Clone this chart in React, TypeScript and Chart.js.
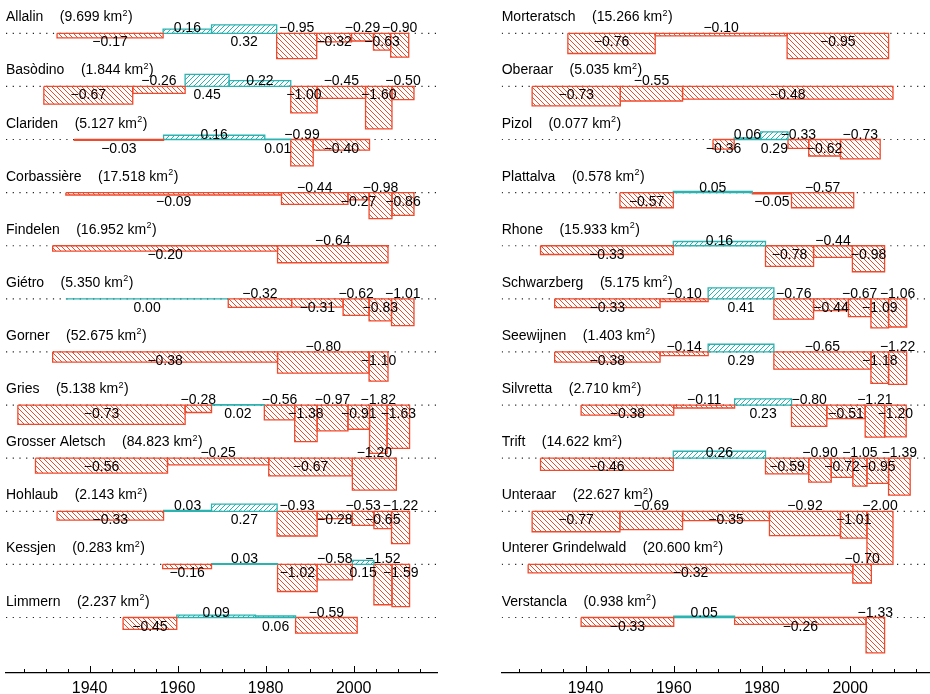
import React, { useEffect, useRef } from 'react';
import { Chart, registerables } from 'chart.js';

Chart.register(...registerables);

const FONT = '"Liberation Sans", Arial, Helvetica, sans-serif';
const RED = '#ee4a2c';
const CYAN = '#2bb3b1';

const X_MIN = 1921;
const X_MAX = 2019;
const Y_MAX = 1.254;
const Y_MIN = -24.09;

// ---------- left panel ----------
const namesLeft = ['Allalin', 'Basòdino', 'Clariden', 'Corbassière', 'Findelen', 'Giétro', 'Gorner', 'Gries', 'Grosser Aletsch', 'Hohlaub', 'Kessjen', 'Limmern'];
const areasLeft = ['9.699', '1.844', '5.127', '17.518', '16.952', '5.350', '52.675', '5.138', '84.823', '2.143', '0.283', '2.237'];

const allalinYears = [1932.6, 1956.7, 1967.7, 1982.5, 1991.6, 1999.5, 2004.5, 2008.4, 2012.5];
const allalinValues = [-0.17, 0.16, 0.32, -0.95, -0.32, -0.29, -0.63, -0.90];
const basodinoYears = [1929.6, 1949.8, 1961.7, 1971.7, 1985.7, 1991.7, 2002.7, 2008.7, 2013.7];
const basodinoValues = [-0.67, -0.26, 0.45, 0.22, -1.00, -0.45, -1.60, -0.50];
const claridenYears = [1936.5, 1956.8, 1979.8, 1985.7, 1990.8, 2003.6];
const claridenValues = [-0.03, 0.16, 0.01, -0.99, -0.40];
const corbassiereYears = [1934.6, 1983.6, 1998.7, 2003.5, 2008.7, 2013.7];
const corbassiereValues = [-0.09, -0.44, -0.27, -0.98, -0.86];
const findelenYears = [1931.6, 1982.7, 2007.8];
const findelenValues = [-0.20, -0.64];
const gietroYears = [1934.6, 1971.5, 1985.9, 1997.6, 2003.5, 2008.6, 2013.7];
const gietroValues = [0.00, -0.32, -0.31, -0.62, -0.83, -1.01];
const gornerYears = [1931.6, 1982.7, 2003.5, 2007.8];
const gornerValues = [-0.38, -0.80, -1.10];
const griesYears = [1923.7, 1961.7, 1967.7, 1979.7, 1986.6, 1991.7, 1998.7, 2003.6, 2007.6, 2012.7];
const griesValues = [-0.73, -0.28, 0.02, -0.56, -1.38, -0.97, -0.91, -1.82, -1.63];
const aletschYears = [1927.7, 1957.7, 1980.7, 1999.7, 2009.7];
const aletschValues = [-0.56, -0.25, -0.67, -1.20];
const hohlaubYears = [1932.6, 1956.8, 1967.7, 1982.6, 1991.7, 1999.7, 2004.6, 2008.6, 2012.7];
const hohlaubValues = [-0.33, 0.03, 0.27, -0.93, -0.28, -0.53, -0.65, -1.22];
const kessjenYears = [1956.6, 1967.7, 1982.7, 1991.7, 1999.7, 2004.6, 2008.7, 2012.7];
const kessjenValues = [-0.16, 0.03, -1.02, -0.58, 0.15, -1.52, -1.59];
const limmernYears = [1947.6, 1959.8, 1977.7, 1986.8, 2000.8];
const limmernValues = [-0.45, 0.09, 0.06, -0.59];

// ---------- right panel ----------
const namesRight = ['Morteratsch', 'Oberaar', 'Pizol', 'Plattalva', 'Rhone', 'Schwarzberg', 'Seewijnen', 'Silvretta', 'Trift', 'Unteraar', 'Unterer Grindelwald', 'Verstancla'];
const areasRight = ['15.266', '5.035', '0.077', '0.578', '15.933', '5.175', '1.403', '2.710', '14.622', '22.627', '20.600', '0.938'];

const morteratschYears = [1936.0, 1955.8, 1985.7, 2008.7];
const morteratschValues = [-0.76, -0.10, -0.95];
const oberaarYears = [1927.9, 1947.9, 1962.0, 2009.7];
const oberaarValues = [-0.73, -0.55, -0.48];
const pizolYears = [1968.9, 1973.7, 1979.7, 1985.9, 1990.6, 1997.8, 2006.8];
const pizolValues = [-0.36, 0.06, 0.29, -0.33, -0.62, -0.73];
const plattalvaYears = [1947.8, 1959.9, 1977.8, 1986.7, 2000.8];
const plattalvaValues = [-0.57, 0.05, -0.05, -0.57];
const rhoneYears = [1929.8, 1959.9, 1980.8, 1991.7, 2000.5, 2007.8];
const rhoneValues = [-0.33, 0.16, -0.78, -0.44, -0.98];
const schwarzbergYears = [1933.0, 1956.9, 1967.8, 1982.7, 1991.7, 1999.6, 2004.7, 2008.7, 2012.8];
const schwarzbergValues = [-0.33, -0.10, 0.41, -0.76, -0.44, -0.67, -1.09, -1.06];
const seewijnenYears = [1933.0, 1956.9, 1967.8, 1982.7, 2004.7, 2008.7, 2012.8];
const seewijnenValues = [-0.38, -0.14, 0.29, -0.65, -1.18, -1.22];
const silvrettaYears = [1939.0, 1960.0, 1973.8, 1986.7, 1994.7, 2003.4, 2007.8, 2012.7];
const silvrettaValues = [-0.38, -0.11, 0.23, -0.80, -0.51, -1.21, -1.20];
const triftYears = [1929.8, 1959.9, 1980.8, 1990.6, 1995.7, 2000.6, 2003.8, 2008.7, 2013.6];
const triftValues = [-0.46, 0.26, -0.59, -0.90, -0.72, -1.05, -0.95, -1.39];
const unteraarYears = [1927.9, 1947.8, 1962.0, 1981.7, 1997.8, 2003.8, 2009.7];
const unteraarValues = [-0.77, -0.69, -0.35, -0.92, -1.01, -2.00];
const grindelwaldYears = [1927.0, 2000.6, 2004.8];
const grindelwaldValues = [-0.32, -0.70];
const verstanclaYears = [1939.0, 1960.0, 1973.8, 2003.6, 2007.8];
const verstanclaValues = [-0.33, 0.05, -0.26, -1.33];

type Row = { name: string; area: string; years: number[]; values: number[] };

const leftYears = [allalinYears, basodinoYears, claridenYears, corbassiereYears, findelenYears, gietroYears, gornerYears, griesYears, aletschYears, hohlaubYears, kessjenYears, limmernYears];
const leftValues = [allalinValues, basodinoValues, claridenValues, corbassiereValues, findelenValues, gietroValues, gornerValues, griesValues, aletschValues, hohlaubValues, kessjenValues, limmernValues];
const rightYears = [morteratschYears, oberaarYears, pizolYears, plattalvaYears, rhoneYears, schwarzbergYears, seewijnenYears, silvrettaYears, triftYears, unteraarYears, grindelwaldYears, verstanclaYears];
const rightValues = [morteratschValues, oberaarValues, pizolValues, plattalvaValues, rhoneValues, schwarzbergValues, seewijnenValues, silvrettaValues, triftValues, unteraarValues, grindelwaldValues, verstanclaValues];

const leftRows: Row[] = namesLeft.map((n, i) => ({ name: n, area: areasLeft[i], years: leftYears[i], values: leftValues[i] }));
const rightRows: Row[] = namesRight.map((n, i) => ({ name: n, area: areasRight[i], years: rightYears[i], values: rightValues[i] }));

function fmt(v: number): string {
  const s = Math.abs(v).toFixed(2);
  return v < 0 ? '\u2212' + s : s;
}

function makeHatch(color: string, back: boolean): CanvasPattern | string {
  const s = 5;
  const c = document.createElement('canvas');
  c.width = s;
  c.height = s;
  const g = c.getContext('2d');
  if (!g) return color;
  g.strokeStyle = color;
  g.lineWidth = 1;
  g.beginPath();
  if (back) {
    g.moveTo(-1, -1); g.lineTo(s + 1, s + 1);
    g.moveTo(-1, s - 1); g.lineTo(1, s + 1);
    g.moveTo(s - 1, -1); g.lineTo(s + 1, 1);
  } else {
    g.moveTo(-1, s + 1); g.lineTo(s + 1, -1);
    g.moveTo(-1, 1); g.lineTo(1, -1);
    g.moveTo(s - 1, s + 1); g.lineTo(s + 1, s - 1);
  }
  g.stroke();
  return g.createPattern(c, 'repeat') || color;
}

function buildDatasets(rows: Row[]) {
  const redPat = makeHatch(RED, true);
  const cyanPat = makeHatch(CYAN, false);
  const ds: any[] = [];
  rows.forEach((row, i) => {
    const base = -2 * i;
    ds.push({
      data: [{ x: X_MIN, y: base }, { x: X_MAX, y: base }],
      borderColor: '#222',
      borderWidth: 1.2,
      borderDash: [1.2, 5.5],
      pointRadius: 0,
      fill: false,
      order: 5,
    });
    row.values.forEach((v, k) => {
      const x0 = row.years[k];
      const x1 = row.years[k + 1];
      const top = base + v;
      const pos = v >= 0;
      ds.push({
        data: [
          { x: x0, y: base }, { x: x0, y: top }, { x: x1, y: top }, { x: x1, y: base }, { x: x0, y: base },
        ],
        borderColor: pos ? CYAN : RED,
        backgroundColor: pos ? cyanPat : redPat,
        borderWidth: 1.3,
        pointRadius: 0,
        fill: 'shape',
        order: 1,
      });
    });
  });
  return ds;
}

function textPlugin(rows: Row[]) {
  return {
    id: 'rowText',
    afterDatasetsDraw(chart: any) {
      const { ctx, chartArea, scales } = chart;
      const x = scales.x;
      const y = scales.y;
      ctx.save();
      ctx.fillStyle = '#000';
      rows.forEach((row, i) => {
        const yb = y.getPixelForValue(-2 * i);
        // title
        ctx.font = `14px ${FONT}`;
        ctx.textAlign = 'left';
        ctx.textBaseline = 'alphabetic';
        const ty = yb - 12;
        let tx = chartArea.left;
        ctx.fillText(row.name, tx, ty);
        tx += ctx.measureText(row.name).width + 16.5;
        const s1 = '(' + row.area + ' km';
        ctx.fillText(s1, tx, ty);
        tx += ctx.measureText(s1).width;
        ctx.font = `9px ${FONT}`;
        ctx.fillText('2', tx + 0.3, ty - 5.5);
        tx += ctx.measureText('2').width + 0.8;
        ctx.font = `14px ${FONT}`;
        ctx.fillText(')', tx, ty);
        // values
        ctx.textAlign = 'center';
        row.values.forEach((v, k) => {
          const xm = x.getPixelForValue((row.years[k] + row.years[k + 1]) / 2);
          const ly = k % 2 === 0 ? yb + 13 : yb - 1;
          ctx.fillText(fmt(v), xm, ly);
        });
      });
      ctx.restore();
    },
  };
}

const tickPlugin = {
  id: 'innerTicks',
  afterDraw(chart: any) {
    const { ctx, chartArea, scales } = chart;
    const x = scales.x;
    const yb = chartArea.bottom;
    ctx.save();
    ctx.strokeStyle = '#000';
    ctx.lineWidth = 1;
    x.ticks.forEach((t: any) => {
      const px = Math.round(x.getPixelForValue(t.value)) + 0.5;
      const len = t.value % 20 === 0 ? 7 : 4;
      ctx.beginPath();
      ctx.moveTo(px, yb);
      ctx.lineTo(px, yb - len);
      ctx.stroke();
    });
    ctx.restore();
  },
};

type PanelProps = { rows: Row[]; left: number; width: number; padLeft: number; padRight: number };

function Panel({ rows, left, width, padLeft, padRight }: PanelProps) {
  const ref = useRef<HTMLCanvasElement>(null);
  useEffect(() => {
    if (!ref.current) return;
    const chart = new Chart(ref.current, {
      type: 'line',
      data: { datasets: buildDatasets(rows) },
      options: {
        responsive: false,
        animation: false,
        events: [],
        layout: { padding: { left: padLeft, right: padRight, top: 0, bottom: 0 } },
        plugins: { legend: { display: false }, tooltip: { enabled: false } },
        scales: {
          x: {
            type: 'linear',
            position: 'bottom',
            min: X_MIN,
            max: X_MAX,
            grid: { display: false, drawTicks: false },
            border: { display: true, color: '#000', width: 1.3 },
            ticks: {
              stepSize: 5,
              autoSkip: false,
              includeBounds: false,
              maxRotation: 0,
              padding: 6,
              color: '#000',
              font: { family: FONT, size: 16 },
              callback: (v: any) => (Number(v) % 20 === 0 ? String(v) : ''),
            },
            afterFit: (s: any) => { s.height = 21; },
          },
          y: { type: 'linear', min: Y_MIN, max: Y_MAX, display: false },
        },
      } as any,
      plugins: [textPlugin(rows), tickPlugin],
    });
    return () => chart.destroy();
  }, []);
  return (
    <canvas
      ref={ref}
      width={width}
      height={694}
      style={{ position: 'absolute', left, top: 0, width, height: 694 }}
    />
  );
}

export default function App() {
  return (
    <div style={{ position: 'absolute', left: 0, top: 0, width: 930, height: 694, overflow: 'hidden', background: '#fff' }}>
      <Panel rows={leftRows} left={0} width={465} padLeft={6} padRight={27.7} />
      <Panel rows={rightRows} left={465} width={480} padLeft={36.7} padRight={11} />
    </div>
  );
}
